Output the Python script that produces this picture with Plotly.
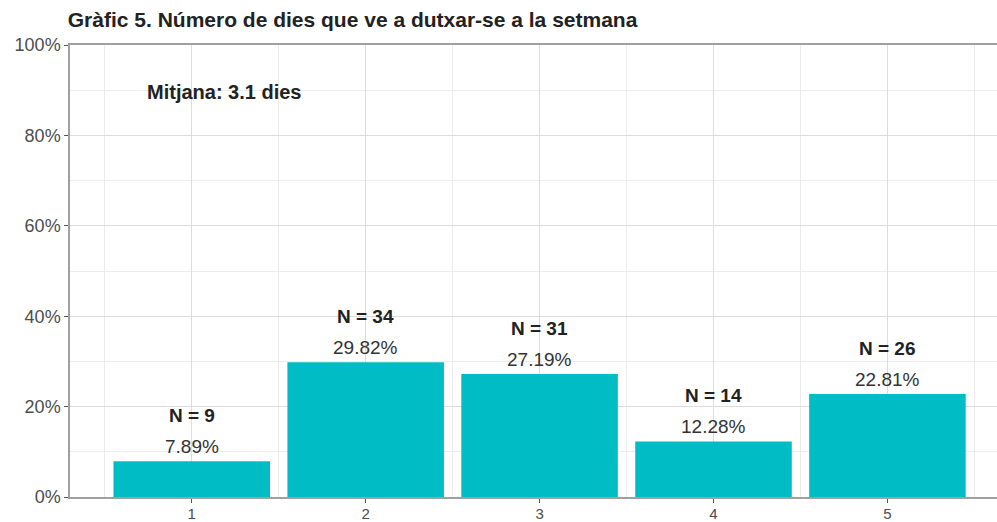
import plotly.graph_objects as go

# data
dies = [1, 2, 3, 4, 5]
percentatges = [7.89, 29.82, 27.19, 12.28, 22.81]
recomptes = [9, 34, 31, 14, 26]
y_ticks = [0, 20, 40, 60, 80, 100]
titol = "Gràfic 5. Número de dies que ve a dutxar-se a la setmana"
mitjana = "Mitjana: 3.1 dies"

FONT = "Liberation Sans, Arial, sans-serif"
TEAL = "#00BCC4"

fig = go.Figure()
fig.add_trace(go.Bar(x=dies, y=percentatges, width=0.9,
                     marker=dict(color=TEAL, line=dict(width=0)),
                     hoverinfo="skip"))

#Labels above each bar: count in bold, percentage below it
for d, p, n in zip(dies, percentatges, recomptes):
    fig.add_annotation(x=d, y=p, text=f"{p:.2f}%", showarrow=False,
                       yanchor="bottom", yshift=2,
                       font=dict(family=FONT, size=19, color="#333333"))
    fig.add_annotation(x=d, y=p, text=f"<b>N = {n}</b>", showarrow=False,
                       yanchor="bottom", yshift=33,
                       font=dict(family=FONT, size=19, color="#222222"))

fig.add_annotation(x=1.19, y=89.6, text=f"<b>{mitjana}</b>", showarrow=False,
                   font=dict(family=FONT, size=20, color="#222222"))

fig.update_layout(
    width=997, height=522,
    margin=dict(l=70, r=0, t=45, b=25),
    paper_bgcolor="white", plot_bgcolor="white",
    showlegend=False,
    title=dict(text=f"<b>{titol}</b>", x=0.068, xanchor="left",
               y=0.962, yanchor="middle",
               font=dict(family=FONT, size=21, color="#222222")),
    font=dict(family=FONT),
)
fig.update_xaxes(range=[0.3, 5.63], tickvals=dies, ticktext=[str(d) for d in dies],
                 showgrid=True, gridcolor="#dcdcdc", gridwidth=1.2,
                 minor=dict(tick0=0.5, dtick=1, showgrid=True, gridcolor="#ececec", gridwidth=1),
                 showline=True, linecolor="#a0a0a0", linewidth=1.5, mirror=True,
                 ticks="outside", ticklen=4, tickcolor="#555555",
                 tickfont=dict(family=FONT, size=15, color="#4d4d4d"),
                 ticklabelstandoff=-2,
                 automargin=False, zeroline=False, fixedrange=True)
fig.update_yaxes(range=[0, 100], tickvals=y_ticks, ticktext=[f"{t}%" for t in y_ticks],
                 showgrid=True, gridcolor="#dcdcdc", gridwidth=1.2,
                 minor=dict(tick0=0, dtick=10, showgrid=True, gridcolor="#ececec", gridwidth=1),
                 showline=True, linecolor="#a0a0a0", linewidth=1.5,
                 ticks="outside", ticklen=4, tickcolor="#555555",
                 tickfont=dict(family=FONT, size=18, color="#4d4d4d"),
                 automargin=False, zeroline=False, fixedrange=True)

# page body has a default 8px margin, drop it so the figure sits at 0,0
fig.write_html("out.html", config={"displayModeBar": False},
               post_script="document.body.style.margin='0';")
